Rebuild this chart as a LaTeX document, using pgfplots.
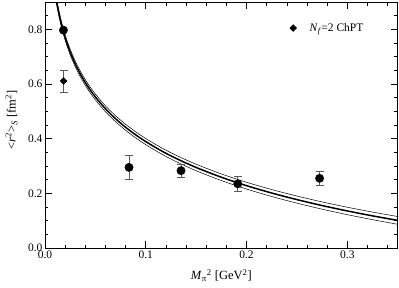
\documentclass[border=0pt]{standalone}
\usepackage{pgfplots}
\usepackage{pgfplotstable}
\pgfplotsset{compat=1.18}
\usepackage{fontspec}
\setmainfont{Liberation Serif}
\pgfplotstableread{
x c u l
0.0105 0.9236 0.9337 0.9135
0.012 0.8917 0.9018 0.8816
0.014 0.8550 0.8652 0.8448
0.016 0.8232 0.8334 0.8130
0.018 0.7952 0.8054 0.7850
0.020 0.7701 0.7803 0.7599
0.023 0.7368 0.7471 0.7265
0.026 0.7077 0.7180 0.6974
0.030 0.6737 0.6841 0.6633
0.035 0.6371 0.6475 0.6267
0.040 0.6055 0.6160 0.5950
0.045 0.5775 0.5880 0.5670
0.050 0.5526 0.5632 0.5420
0.060 0.5094 0.5201 0.4987
0.070 0.4731 0.4839 0.4623
0.080 0.4416 0.4526 0.4306
0.090 0.4139 0.4250 0.4028
0.100 0.3893 0.4005 0.3781
0.115 0.3565 0.3679 0.3451
0.130 0.3279 0.3395 0.3163
0.150 0.2946 0.3064 0.2828
0.175 0.2589 0.2710 0.2468
0.200 0.2281 0.2405 0.2157
0.225 0.2011 0.2138 0.1884
0.250 0.1771 0.1901 0.1641
0.275 0.1553 0.1686 0.1420
0.300 0.1356 0.1492 0.1220
0.325 0.1176 0.1315 0.1037
0.350 0.1010 0.1152 0.0868
}\curve
\pgfplotstableread{
x y e
0.0183 0.797 0.0
0.0834 0.295 0.044
0.1350 0.283 0.025
0.1913 0.235 0.027
0.2725 0.255 0.025
}\lat
\pgfplotstableread{
x y e
0.0185 0.611 0.040
}\chpt
\begin{document}
\begin{tikzpicture}
\begin{axis}[
  scale only axis,
  width=352.7pt, height=246pt,
  xmin=0, xmax=0.35, ymin=0, ymax=0.9,
  xtick={0,0.1,0.2,0.3}, ytick={0,0.2,0.4,0.6,0.8},
  minor xtick={0.02,0.04,0.06,0.08,0.12,0.14,0.16,0.18,0.22,0.24,0.26,0.28,0.32,0.34},
  minor ytick={0.05,0.1,0.15,0.25,0.3,0.35,0.45,0.5,0.55,0.65,0.7,0.75,0.85},
  xticklabel style={/pgf/number format/fixed,/pgf/number format/precision=1,/pgf/number format/fixed zerofill},
  yticklabel style={/pgf/number format/fixed,/pgf/number format/precision=1,/pgf/number format/fixed zerofill},
  /pgf/number format/assume math mode=true,
  tick align=inside, major tick length=7pt, minor tick length=3.5pt,
  tick style={black, line width=0.6pt},
  axis line style={line width=0.8pt},
  ticklabel style={font=\fontsize{11.5}{12}\selectfont},
  xticklabel style={yshift=1pt},
  yticklabel style={xshift=1pt},
  label style={font=\fontsize{12.5}{14}\selectfont},
  xlabel={\textit{M}\textsubscript{π}\textsuperscript{2} [GeV\textsuperscript{2}]},
  ylabel={<\textit{r}\textsuperscript{2}>\textsubscript{\textit{S}} [fm\textsuperscript{2}]},
  xlabel style={at={(axis description cs:0.5,-0.113)},anchor=center},
  ylabel style={at={(axis description cs:-0.095,0.52)},anchor=center},
  legend style={draw=none, fill=none, at={(0.685,0.894)}, anchor=west,
    font=\fontsize{11.5}{12}\selectfont,
    /tikz/every odd column/.append style={column sep=11pt}},
  legend cell align=left,
]
\addplot[black, line width=0.5pt, smooth, forget plot] table[x=x,y=u]{\curve};
\addplot[black, line width=0.5pt, smooth, forget plot] table[x=x,y=l]{\curve};
\addplot[black, line width=1.5pt, smooth, forget plot] table[x=x,y=c]{\curve};
\addplot[only marks, mark=*, mark size=4.2pt, black, forget plot,
  error bars/.cd, y dir=both, y explicit,
  error bar style={gray!70!black, line width=0.6pt},
  error mark options={rotate=90, mark size=4pt, gray!70!black, line width=0.6pt}]
  table[x=x,y=y,y error=e]{\lat};
\addplot[only marks, mark=diamond*, mark size=3.4pt, mark options={xscale=1.33}, black,
  error bars/.cd, y dir=both, y explicit,
  error bar style={gray!70!black, line width=0.6pt},
  error mark options={rotate=90, mark size=4pt, gray!70!black, line width=0.6pt}]
  table[x=x,y=y,y error=e]{\chpt};
\addlegendentry{\textit{N}\textsubscript{\textit{f}}=2 ChPT}
\end{axis}
\pgfresetboundingbox
\path ([shift={(-45pt,-39pt)}]current axis.south west) rectangle ([shift={(1.3pt,2pt)}]current axis.north east);
\end{tikzpicture}
\end{document}
